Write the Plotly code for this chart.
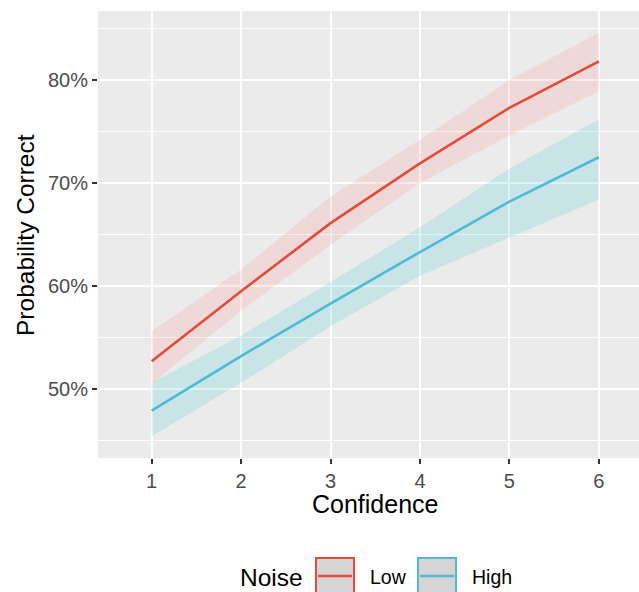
import plotly.graph_objects as go

# ---- data ----
confidence = [1, 2, 3, 4, 5, 6]
low_mean = [0.527, 0.595, 0.661, 0.719, 0.773, 0.818]
low_lower = [0.505, 0.576, 0.640, 0.700, 0.746, 0.789]
low_upper = [0.556, 0.616, 0.687, 0.742, 0.800, 0.846]
high_mean = [0.479, 0.532, 0.583, 0.633, 0.682, 0.725]
high_lower = [0.454, 0.506, 0.561, 0.610, 0.647, 0.684]
high_upper = [0.506, 0.552, 0.604, 0.657, 0.714, 0.762]
y_ticks = [0.5, 0.6, 0.7, 0.8]
y_minor = [0.45, 0.55, 0.65, 0.75, 0.85]
groups = ["Low", "High"]

RED = "#E64B35"
BLUE = "#4DBBD5"
FONT = "Liberation Sans, Arial, sans-serif"

W, H = 639, 592
L, R, T, B = 98, 0, 11, 134
PW, PH = W - L - R, H - T - B


def px(x):
    return (x - L) / PW


def py(y):
    return (H - B - y) / PH


fig = go.Figure()

series = [
    (low_mean, low_lower, low_upper, RED, "rgba(255,115,108,0.15)"),
    (high_mean, high_lower, high_upper, BLUE, "rgba(65,200,215,0.2)"),
]

for mean, lo, hi, col, fill in series:
    fig.add_trace(go.Scatter(
        x=confidence + confidence[::-1],
        y=hi + lo[::-1],
        fill="toself", fillcolor=fill, mode="lines",
        line=dict(width=0, color=fill), hoverinfo="skip", showlegend=False))

for (mean, lo, hi, col, fill), name in zip(series, groups):
    fig.add_trace(go.Scatter(
        x=confidence, y=mean, mode="lines", name=name,
        line=dict(color=col, width=2.6), showlegend=False))

fig.update_layout(
    width=W, height=H,
    margin=dict(l=L, r=R, t=T, b=B, autoexpand=False),
    paper_bgcolor="white", plot_bgcolor="#EBEBEB",
    font=dict(family=FONT, color="black"),
    showlegend=False,
)

fig.update_xaxes(
    range=[0.4, 0.4 + PW / 89.44],
    tickvals=confidence, ticktext=[str(c) for c in confidence],
    showgrid=True, gridcolor="white", gridwidth=2,
    zeroline=False, showline=False,
    ticks="outside", ticklen=5, tickwidth=2, tickcolor="#333333",
    tickfont=dict(size=20, color="#4D4D4D", family=FONT),
)

fig.update_yaxes(
    range=[0.433, 0.867],
    tickvals=y_ticks, tickformat=".0%",
    showgrid=True, gridcolor="white", gridwidth=2,
    minor=dict(tickvals=y_minor, showgrid=True, gridcolor="white", gridwidth=1, ticks=""),
    zeroline=False, showline=False,
    ticks="outside", ticklen=5, tickwidth=2, tickcolor="#333333",
    tickfont=dict(size=20, color="#4D4D4D", family=FONT),
)

annotations = [
    dict(text="Confidence", x=px(374.5), y=py(504), xref="paper", yref="paper",
         xanchor="center", yanchor="middle", showarrow=False,
         font=dict(size=25, color="black", family=FONT)),
    dict(text="Probability Correct", x=px(25), y=py(235), xref="paper", yref="paper",
         xanchor="center", yanchor="middle", textangle=-90, showarrow=False,
         font=dict(size=24.5, color="black", family=FONT)),
    dict(text="Noise", x=px(238), y=py(577), xref="paper", yref="paper",
         xanchor="left", yanchor="middle", showarrow=False,
         font=dict(size=24.5, color="black", family=FONT)),
]

shapes = []
keys = [(316, 354, 368, RED), (418, 456, 470, BLUE)]
for (x0, x1, tx, col), name in zip(keys, groups):
    shapes.append(dict(type="rect", xref="paper", yref="paper",
                       x0=px(x0), x1=px(x1), y0=py(558), y1=py(600),
                       fillcolor="#D5D5D5", line=dict(color=col, width=2)))
    shapes.append(dict(type="line", xref="paper", yref="paper",
                       x0=px(x0 + 2), x1=px(x1 - 2), y0=py(576), y1=py(576),
                       line=dict(color=col, width=2.6)))
    annotations.append(dict(text=name, x=px(tx), y=py(577), xref="paper", yref="paper",
                            xanchor="left", yanchor="middle", showarrow=False,
                            font=dict(size=19.5, color="black", family=FONT)))

fig.update_layout(annotations=annotations, shapes=shapes)

fig.write_html(
    "out.html",
    config={"displayModeBar": False},
    post_script="document.body.style.margin='0';document.body.style.padding='0';",
)
